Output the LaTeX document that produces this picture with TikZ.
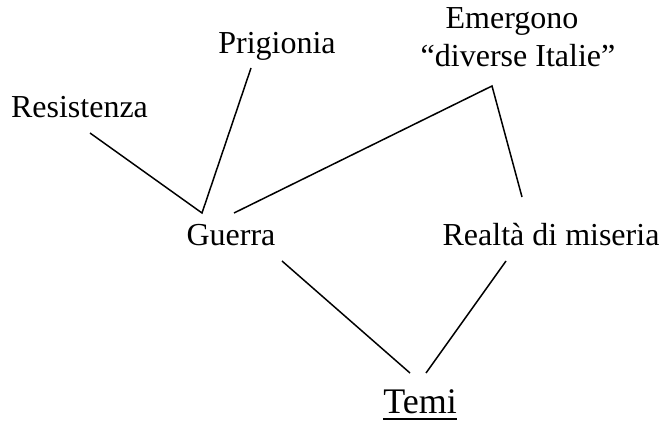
\documentclass[tikz,border=0pt]{standalone}
\usepackage{fontspec}
\setmainfont{Liberation Serif}
\begin{document}
\begin{tikzpicture}[x=1pt,y=-1pt,
  lbl/.style={inner sep=0pt,anchor=base,font=\fontsize{32}{37}\selectfont},
  conn/.style={line width=1.5pt}]
\useasboundingbox (0,0) rectangle (661,422);
\node[lbl] (emer) at (512,29) {Emergono};
\node[lbl] (div) at (518,67) {“diverse Italie”};
\node[lbl] (prig) at (277,54) {Prigionia};
\node[lbl] (resi) at (79.5,118) {Resistenza};
\node[lbl] (guer) at (231,245) {Guerra};
\node[lbl] (real) at (551,245) {Realtà di miseria};
\node[lbl,font=\fontsize{36}{40}\selectfont] (temi) at (420,413) {Temi};
\draw[line width=2pt] ([yshift=-5.5pt]temi.base west) -- ([yshift=-5.5pt]temi.base east);
% connector end points
\coordinate (r1) at (90,133);
\coordinate (g1) at (202,213);
\coordinate (p1) at (251,68);
\coordinate (g3) at (234,213);
\coordinate (apex) at (492,86);
\coordinate (rm1) at (522,197);
\coordinate (g4) at (282,261);
\coordinate (t1) at (410,373);
\coordinate (rm2) at (506,261);
\coordinate (t2) at (426,373);
\draw[conn] (r1) -- (g1) -- (p1);
\draw[conn] (g3) -- (apex) -- (rm1);
\draw[conn] (g4) -- (t1);
\draw[conn] (rm2) -- (t2);
\end{tikzpicture}
\end{document}
